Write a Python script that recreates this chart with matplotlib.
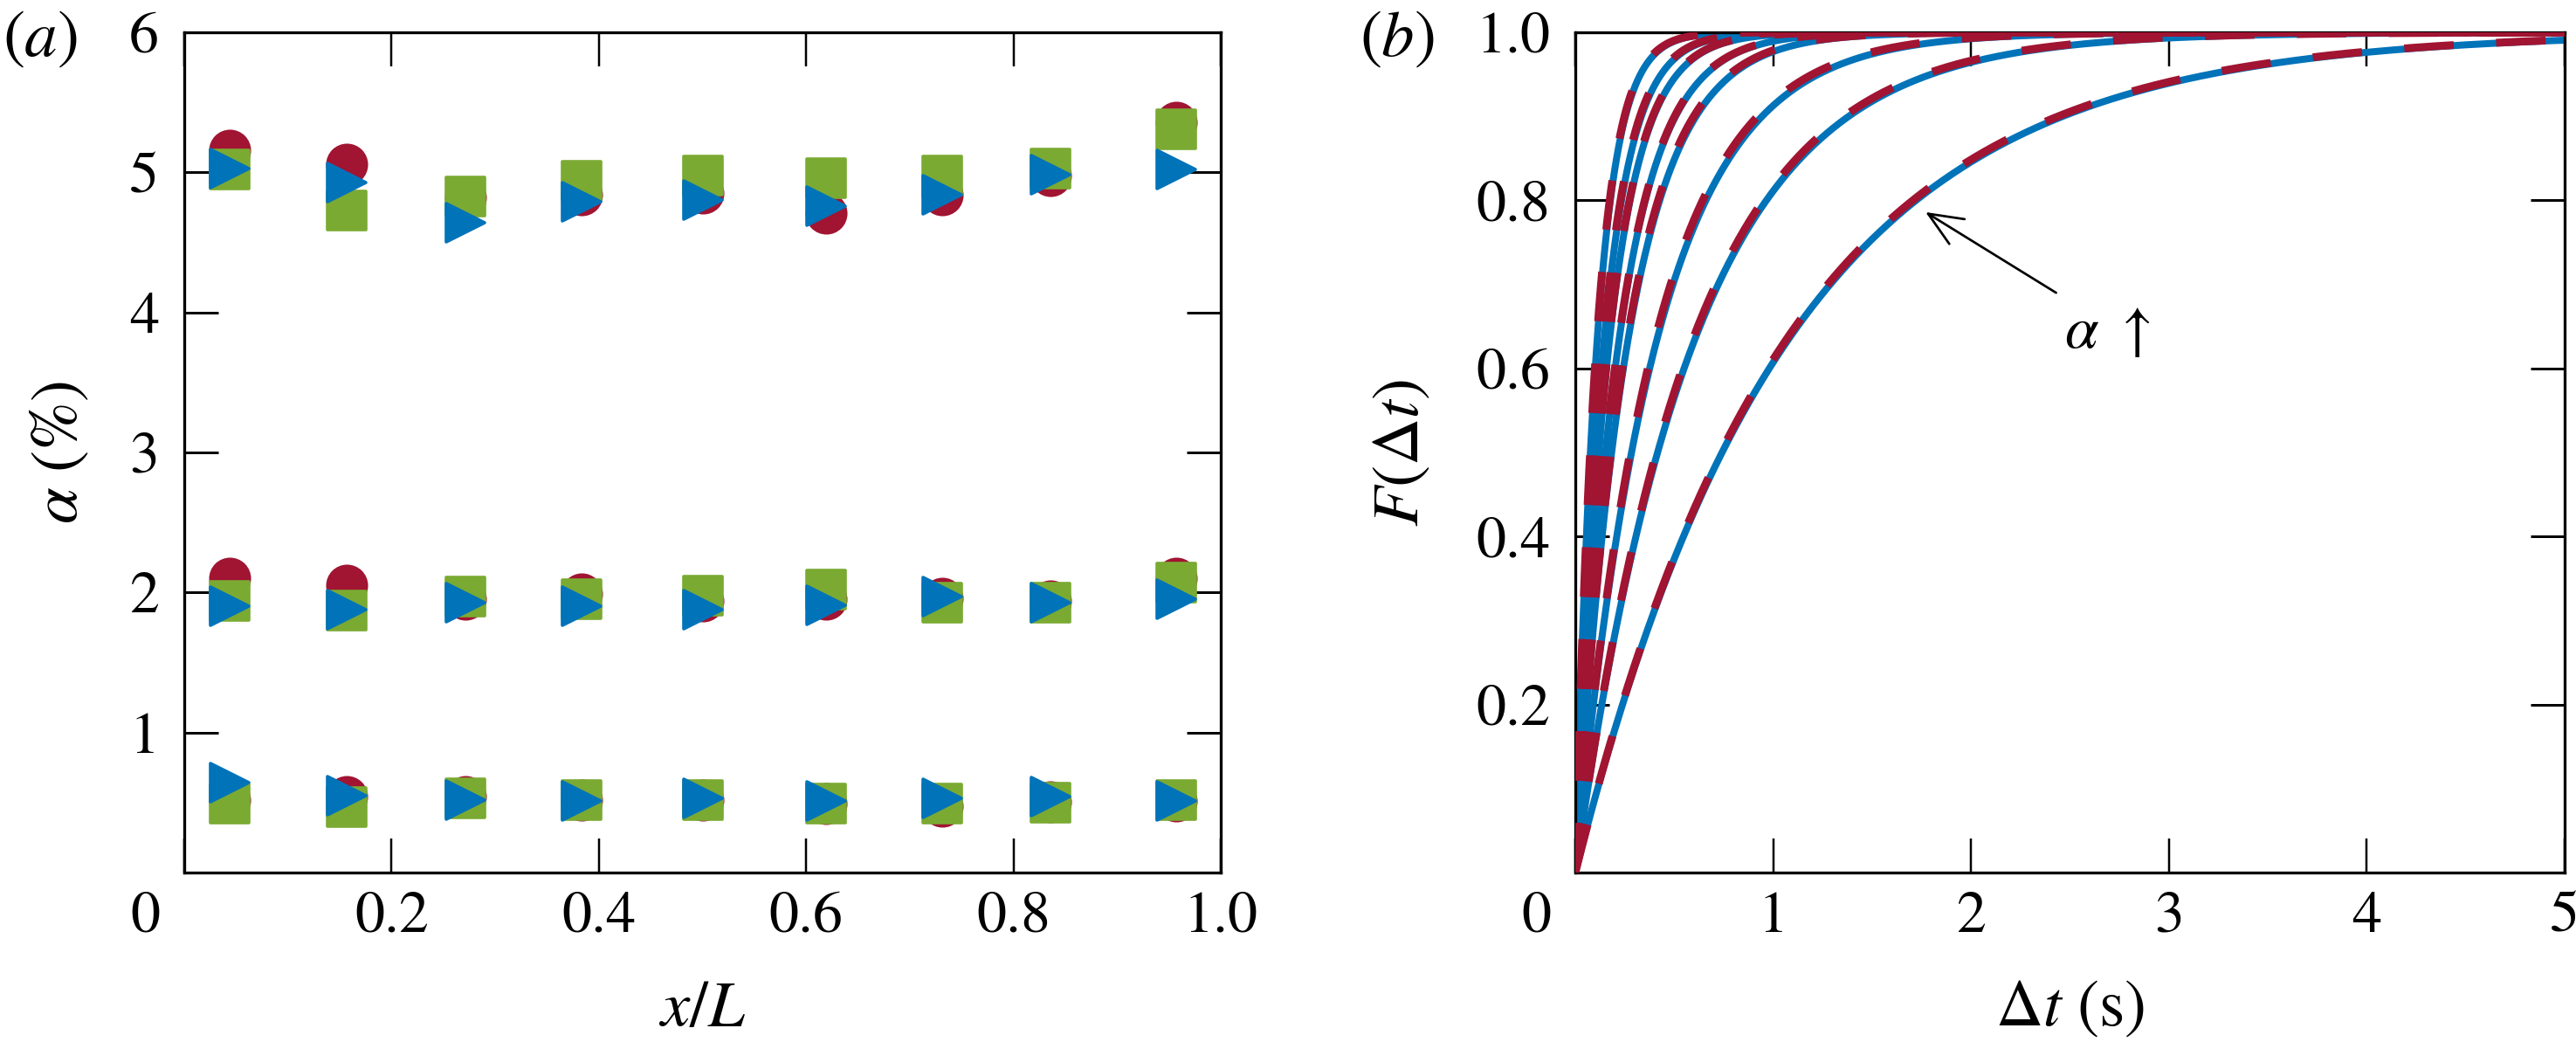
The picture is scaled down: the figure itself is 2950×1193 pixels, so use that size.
import numpy as np
import matplotlib
matplotlib.use('Agg')
import matplotlib.pyplot as plt
from matplotlib.markers import MarkerStyle
from matplotlib.transforms import ScaledTranslation

plt.rcParams['font.family'] = 'STIXGeneral'
plt.rcParams['mathtext.fontset'] = 'stix'

# ---------------- data ----------------
x_pos = [0.044, 0.157, 0.271, 0.383, 0.500, 0.619, 0.731, 0.836, 0.957]

circ_hi = [5.16, 5.06, 4.82, 4.84, 4.85, 4.71, 4.84, 4.975, 5.36]
sq_hi = [5.02, 4.725, 4.83, 4.94, 4.975, 4.96, 4.975, 5.03, 5.31]
tri_hi = [5.025, 4.925, 4.64, 4.79, 4.80, 4.76, 4.84, 4.985, 5.02]

circ_mid = [2.10, 2.05, 1.95, 1.99, 1.94, 1.95, 1.96, 1.94, 2.10]
sq_mid = [1.94, 1.87, 1.97, 1.95, 1.98, 2.02, 1.93, 1.93, 2.07]
tri_mid = [1.90, 1.88, 1.93, 1.90, 1.875, 1.91, 1.97, 1.93, 1.95]

circ_lo = [0.52, 0.54, 0.54, 0.52, 0.52, 0.49, 0.475, 0.505, 0.51]
sq_lo = [0.49, 0.47, 0.53, 0.52, 0.52, 0.49, 0.49, 0.50, 0.52]
tri_lo = [0.64, 0.55, 0.52, 0.51, 0.53, 0.51, 0.53, 0.54, 0.51]

# time constants of the exponential CDFs (s): fit (solid) and data (dashed)
tau_fit = [0.11, 0.145, 0.172, 0.22, 0.265, 0.41, 0.60, 1.07]
tau_data = [0.108, 0.142, 0.170, 0.218, 0.26, 0.40, 0.59, 1.06]

xticks_a = [0, 0.2, 0.4, 0.6, 0.8, 1.0]
xlabels_a = ['0', '0.2', '0.4', '0.6', '0.8', '1.0']
yticks_a = [1, 2, 3, 4, 5, 6]
ylabels_a = ['1', '2', '3', '4', '5', '6']
xticks_b = [0, 1, 2, 3, 4, 5]
xlabels_b = ['0', '1', '2', '3', '4', '5']
yticks_b = [0.2, 0.4, 0.6, 0.8, 1.0]
ylabels_b = ['0.2', '0.4', '0.6', '0.8', '1.0']

# ---------------- style ----------------
RED = '#A11432'
GREEN = '#7AAA32'
BLUE = '#0073B9'

W, H = 2950, 1193
DPI = 200
PT = 72.0 / DPI  # points per pixel

fig = plt.figure(figsize=(W / DPI, H / DPI), dpi=DPI)


def px_box(x0, y0, x1, y1):
    return [x0 / W, 1 - y1 / H, (x1 - x0) / W, (y1 - y0) / H]


ax1 = fig.add_axes(px_box(211, 37, 1398, 999))
ax2 = fig.add_axes(px_box(1804, 37, 2937, 999))

TICK_FS = 24.5
LABEL_FS = 27

for ax in (ax1, ax2):
    for sp in ax.spines.values():
        sp.set_linewidth(3.3 * PT)
    ax.tick_params(which='both', direction='in', length=39 * PT,
                   width=3.0 * PT, top=True, right=True,
                   labelsize=TICK_FS)
    ax.tick_params(axis='y', pad=29 * PT)
    ax.tick_params(axis='x', pad=22 * PT, width=2.5 * PT)

# ---------------- panel (a) ----------------
ms = 16
mew = 1.3
circ = MarkerStyle('o', joinstyle='round')
sq = MarkerStyle('s', joinstyle='round')
tri = MarkerStyle('>', joinstyle='round')

for ys in (circ_hi, circ_mid, circ_lo):
    ax1.plot(x_pos, ys, ls='none', marker=circ, ms=ms, mew=mew,
             mfc=RED, mec=RED, zorder=3, clip_on=False)
for ys in (sq_hi, sq_mid, sq_lo):
    ax1.plot(x_pos, ys, ls='none', marker=sq, ms=ms, mew=mew,
             mfc=GREEN, mec=GREEN, zorder=4, clip_on=False)
for ys in (tri_hi, tri_mid, tri_lo):
    ax1.plot(x_pos, ys, ls='none', marker=tri, ms=ms, mew=mew,
             mfc=BLUE, mec=BLUE, zorder=5, clip_on=False)

ax1.set_xlim(0, 1)
ax1.set_ylim(0, 6)
ax1.set_xticks(xticks_a)
ax1.set_xticklabels(xlabels_a)
ax1.set_yticks(yticks_a)
ax1.set_yticklabels(ylabels_a)

ax1.set_xlabel(r'$x/L$', fontsize=LABEL_FS)
ax1.xaxis.label.set_va('center')
ax1.xaxis.set_label_coords(0.5, -0.165)
ax1.set_ylabel(r'$\alpha\ (\%)$', fontsize=LABEL_FS)
ax1.yaxis.label.set_va('center')
ax1.yaxis.set_label_coords(-0.1196, 0.5)

# ---------------- panel (b) ----------------
t = np.linspace(0, 5, 3000)
for tau in tau_fit:
    ax2.plot(t, 1 - np.exp(-t / tau), color=BLUE, lw=8 * PT,
             solid_capstyle='butt', zorder=2)
for tau in tau_data:
    ax2.plot(t, 1 - np.exp(-t / tau), color=RED, lw=9 * PT,
             ls=(0, (6.3, 5.4)), dash_capstyle='butt', zorder=3)

ax2.set_xlim(0, 5)
ax2.set_ylim(0, 1)
ax2.set_xticks(xticks_b)
ax2.set_xticklabels(xlabels_b)
ax2.set_yticks(yticks_b)
ax2.set_yticklabels(ylabels_b)

ax2.set_xlabel(r'$\Delta t\ (\mathrm{s})$', fontsize=LABEL_FS)
ax2.xaxis.label.set_va('center')
ax2.xaxis.set_label_coords(0.5, -0.163)
ax2.set_ylabel(r'$F(\Delta t)$', fontsize=LABEL_FS)
ax2.yaxis.label.set_va('center')
ax2.yaxis.set_label_coords(-0.1748, 0.5)

ax2.annotate('', xy=(1.77, 0.786), xytext=(2.43, 0.69),
             arrowprops=dict(arrowstyle='->,head_length=0.7,head_width=0.3',
                             lw=2.7 * PT, color='k', shrinkA=0, shrinkB=0,
                             mutation_scale=20), zorder=6)
ax2.text(2.69, 0.642, r'$\alpha\ \uparrow$', ha='center', va='center',
         fontsize=25, zorder=6)

# shift the corner "0" labels to the left like the reference
for ax in (ax1, ax2):
    lab = ax.get_xticklabels()[0]
    lab.set_transform(lab.get_transform() +
                      ScaledTranslation(-45 / DPI, 0, fig.dpi_scale_trans))

# panel letters
fig.text(46 / W, 1 - 46 / H, r'$(a)$', ha='center', va='center', fontsize=LABEL_FS)
fig.text(1600 / W, 1 - 46 / H, r'$(b)$', ha='center', va='center', fontsize=LABEL_FS)

fig.savefig('out.png', dpi=DPI)
